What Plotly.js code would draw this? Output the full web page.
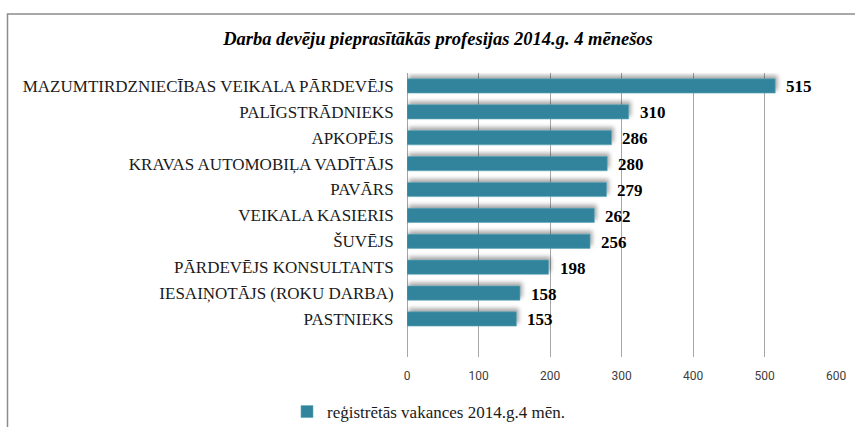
<!DOCTYPE html>
<html>
<head>
<meta charset="utf-8">
<script src="https://cdn.plot.ly/plotly-3.0.1.min.js"></script>
<style>
html,body{margin:0;padding:0;background:#fff;}
#chart{width:855px;height:427px;}
#chart .barlayer .point path{filter: drop-shadow(2px -3px 2px rgba(0,0,0,0.35));}
</style>
</head>
<body>
<div id="chart"></div>
<script>
const professions = [
  "MAZUMTIRDZNIECĪBAS VEIKALA PĀRDEVĒJS",
  "PALĪGSTRĀDNIEKS",
  "APKOPĒJS",
  "KRAVAS AUTOMOBIĻA VADĪTĀJS",
  "PAVĀRS",
  "VEIKALA KASIERIS",
  "ŠUVĒJS",
  "PĀRDEVĒJS KONSULTANTS",
  "IESAIŅOTĀJS (ROKU DARBA)",
  "PASTNIEKS"
];
const vacancies = [515, 310, 286, 280, 279, 262, 256, 198, 158, 153];
const seriesName = "reģistrētās vakances 2014.g.4 mēn.";
const xTicks = [0, 100, 200, 300, 400, 500, 600];
const chartTitle = "Darba devēju pieprasītākās profesijas 2014.g. 4 mēnešos";

const serif = 'Liberation Serif, Times New Roman, serif';
const narrow = 'Liberation Sans Narrow, Roboto, Liberation Sans, sans-serif';
const barColor = '#31849b';

const trace = {
  type: 'bar',
  orientation: 'h',
  x: vacancies,
  y: professions,
  name: seriesName,
  width: 0.55,
  marker: {color: barColor, line: {color: '#5fa9bd', width: 0.6}},
  hoverinfo: 'x+y',
  showlegend: true
};

const annotations = vacancies.map((v, i) => ({
  x: v, y: professions[i], xref: 'x', yref: 'y',
  text: '<b>' + v + '</b>', showarrow: false,
  xanchor: 'left', yanchor: 'middle', xshift: 9, yshift: -1,
  font: {family: serif, size: 17, color: '#000'}
}));

const layout = {
  width: 855, height: 427,
  margin: {l: 407, r: 19, t: 73, b: 70, autoexpand: false},
  paper_bgcolor: '#fff', plot_bgcolor: '#fff',
  font: {family: serif},
  title: {
    text: '<b><i>' + chartTitle + '</i></b>',
    font: {family: serif, size: 18.5, color: '#000'},
    x: 438 / 855, xanchor: 'center', xref: 'container',
    y: 1 - 39/427, yanchor: 'middle', yref: 'container'
  },
  xaxis: {
    range: [0, 600],
    tickvals: xTicks,
    ticktext: xTicks.map(String),
    showgrid: true, gridcolor: '#a6a6a6', gridwidth: 1,
    zeroline: true, zerolinecolor: '#a6a6a6', zerolinewidth: 1,
    showline: false,
    ticks: 'outside', ticklen: 8, tickcolor: 'rgba(0,0,0,0)',
    tickfont: {family: narrow, size: 12, color: '#404040'},
    fixedrange: true
  },
  yaxis: {
    type: 'category',
    categoryorder: 'array', categoryarray: professions,
    range: [10.47, -0.5],
    showgrid: false, zeroline: false, showline: false,
    ticks: 'outside', ticklen: 9, tickcolor: 'rgba(0,0,0,0)',
    tickfont: {family: serif, size: 17, color: '#1a1a1a'},
    fixedrange: true
  },
  showlegend: true,
  legend: {
    orientation: 'h',
    x: (287 - 407) / 429, xanchor: 'left',
    y: (357 - 412) / 284, yanchor: 'middle',
    font: {family: serif, size: 17, color: '#1a1a1a'},
    itemwidth: 30, bgcolor: 'rgba(0,0,0,0)'
  },
  annotations: annotations,
  shapes: [{
    type: 'rect', xref: 'paper', yref: 'paper',
    x0: (7.5 - 407) / 429, x1: (870 - 407) / 429,
    y0: (357 - 440) / 284, y1: 1 + (73 - 14) / 284,
    line: {color: '#8c8c8c', width: 1.5},
    fillcolor: 'rgba(0,0,0,0)', layer: 'below'
  }]
};

Plotly.newPlot('chart', [trace], layout, {displayModeBar: false, staticPlot: true});
</script>
</body>
</html>
